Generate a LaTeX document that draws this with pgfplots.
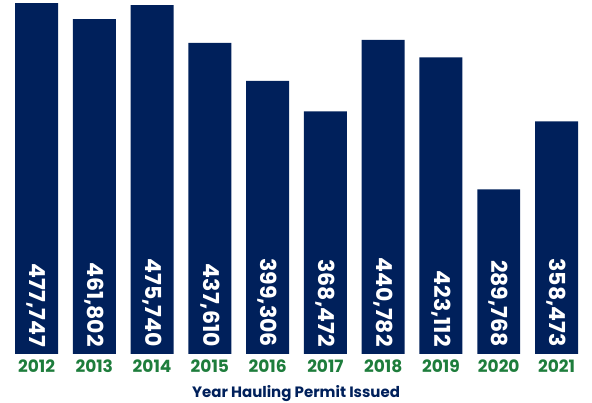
\documentclass[border=0pt]{standalone}
\usepackage{pgfplots}
\pgfplotsset{compat=1.18}
\usepackage{pgfplotstable}
\usepackage{fontspec}
\setmainfont{Poppins}
\definecolor{navy}{HTML}{00205B}
\definecolor{ygreen}{HTML}{1E7D3C}
\pgfplotstableread{
x y label
0 477747 477,747
1 461802 461,802
2 475740 475,740
3 437610 437,610
4 399306 399,306
5 368472 368,472
6 440782 440,782
7 423112 423,112
8 289768 289,768
9 358473 358,473
}\datatable
\begin{document}
\begin{tikzpicture}
\begin{axis}[
  scale only axis, width=592pt, height=354pt,
  xmin=-0.632, xmax=9.614, ymin=123500, ymax=481000,
  clip=false,
  axis line style={draw=none},
  ytick=\empty,
  xtick={0,...,9},
  xticklabels={2012,2013,2014,2015,2016,2017,2018,2019,2020,2021},
  major tick length=0pt,
  xticklabel style={font=\bfseries\fontsize{17}{17}\selectfont, text=ygreen, anchor=north, yshift=-2pt},
  xlabel={Year Hauling Permit Issued},
  xlabel style={font=\bfseries\fontsize{15}{15}\selectfont, text=navy, yshift=-6pt},
  bar width=0.744,
]
\addplot[ybar, fill=navy, draw=none, bar shift=0pt] table[x=x,y=y]{\datatable};
\addplot[draw=none, mark=none, nodes near coords, point meta=explicit symbolic,
  nodes near coords style={yshift=7pt, rotate=-90, anchor=east, text=white, font=\bfseries\fontsize{22}{22}\selectfont, inner sep=0pt}]
  table[x=x, y expr=123500, meta=label]{\datatable};
\end{axis}
\pgfresetboundingbox
\path[use as bounding box] (0,-49pt) rectangle (592pt,354pt);
\end{tikzpicture}
\end{document}
